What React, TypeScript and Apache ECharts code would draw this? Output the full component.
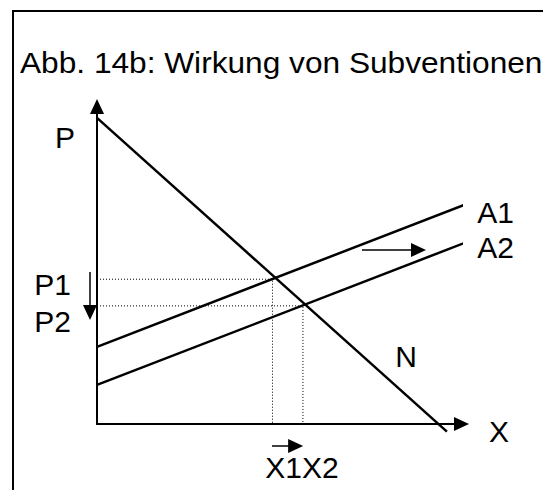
import React, { useEffect, useRef } from "react";
import * as echarts from "echarts";

// ---- data (axis units: 0..100 on both axes) ----
const titleText = "Abb. 14b: Wirkung von Subventionen";
const axisNames = ["X", "P"];
const curveNames = ["N", "A1", "A2"];
const priceLabels = ["P1", "P2"];
const quantityLabel = "X1X2";

const demandN = [
  [0, 96.4],
  [96.0, -2.4],
];
const supplyA1 = [
  [0, 24.3],
  [102.1, 69.6],
];
const supplyA2 = [
  [0, 12.3],
  [102.1, 57.6],
];
const priceP1 = 45.6;
const quantityX1 = 48.15;
const priceP2 = 37.2;
const quantityX2 = 56.5;

const shiftArrow = [
  [72.7, 54.8],
  [88.2, 54.8],
];
const priceArrow = [
  [-1.92, 47.9],
  [-1.92, 35.1],
];
const quantityArrow = [
  [48.0, -6.93],
  [54.5, -6.93],
];

const FONT = "'Liberation Sans', Arial, Helvetica, sans-serif";

function label(text: string, x: number, y: number, extra: any = {}) {
  return {
    type: "text",
    x,
    y,
    silent: true,
    ...extra,
    style: {
      text,
      fontSize: 30,
      fontFamily: FONT,
      fill: "#000",
      align: extra.align || "center",
      verticalAlign: "middle",
    },
  };
}

export default function App() {
  const ref = useRef<HTMLDivElement>(null);

  useEffect(() => {
    document.body.style.margin = "0";
    if (!ref.current) return;
    const chart = echarts.init(ref.current, undefined, { renderer: "svg" });

    const solid = (name: string, data: number[][]) => ({
      name,
      type: "line",
      data,
      symbol: "none",
      showSymbol: false,
      clip: false,
      silent: true,
      z: 5,
      lineStyle: { color: "#000", width: 2.5 },
    });
    const dotted = (name: string, data: number[][]) => ({
      name,
      type: "line",
      data,
      symbol: "none",
      showSymbol: false,
      clip: false,
      silent: true,
      z: 2,
      lineStyle: { color: "#000", width: 1, type: [1, 2] },
    });
    const arrow = (name: string, coords: number[][]) => ({
      name,
      type: "lines",
      coordinateSystem: "cartesian2d",
      clip: false,
      silent: true,
      z: 6,
      symbol: ["none", "triangle"],
      symbolSize: [
        [14, 15],
        [14, 15],
      ],
      lineStyle: { color: "#000", width: 1.5, opacity: 1, curveness: 0 },
      data: [{ coords }],
    });

    chart.setOption({
      animation: false,
      backgroundColor: "#fff",
      grid: { left: 97, right: 81.5, top: 106.5, bottom: 66 },
      xAxis: {
        type: "value",
        min: 0,
        max: 100,
        axisLine: {
          show: true,
          onZero: false,
          symbol: ["none", "triangle"],
          symbolSize: [14, 15],
          lineStyle: { color: "#000", width: 2 },
        },
        axisTick: { show: false },
        axisLabel: { show: false },
        splitLine: { show: false },
      },
      yAxis: {
        type: "value",
        min: 0,
        max: 100,
        axisLine: {
          show: true,
          onZero: false,
          symbol: ["none", "triangle"],
          symbolSize: [14, 15],
          lineStyle: { color: "#000", width: 2 },
        },
        axisTick: { show: false },
        axisLabel: { show: false },
        splitLine: { show: false },
      },
      series: [
        dotted("P1 guide", [
          [0, priceP1],
          [quantityX1, priceP1],
          [quantityX1, 0],
        ]),
        dotted("P2 guide", [
          [0, priceP2],
          [quantityX2, priceP2],
          [quantityX2, 0],
        ]),
        solid(curveNames[0], demandN),
        solid(curveNames[1], supplyA1),
        solid(curveNames[2], supplyA2),
        arrow("shift", shiftArrow),
        arrow("price", priceArrow),
        arrow("quantity", quantityArrow),
      ],
      graphic: [
        {
          type: "rect",
          silent: true,
          shape: { x: 13, y: 11, width: 640, height: 600 },
          style: { fill: "none", stroke: "#000", lineWidth: 2 },
        },
        label(titleText, 20, 62.5, { align: "left", scaleX: 1.055 }),
        label(axisNames[1], 65, 137.5),
        label(axisNames[0], 499, 431),
        label(priceLabels[0], 52.5, 284),
        label(priceLabels[1], 52.5, 321),
        label(curveNames[1], 495.5, 212),
        label(curveNames[2], 495.5, 247.5),
        label(curveNames[0], 406, 356.5),
        label(quantityLabel, 302, 467),
      ],
    });

    return () => chart.dispose();
  }, []);

  return <div ref={ref} style={{ width: 543, height: 490 }} />;
}
